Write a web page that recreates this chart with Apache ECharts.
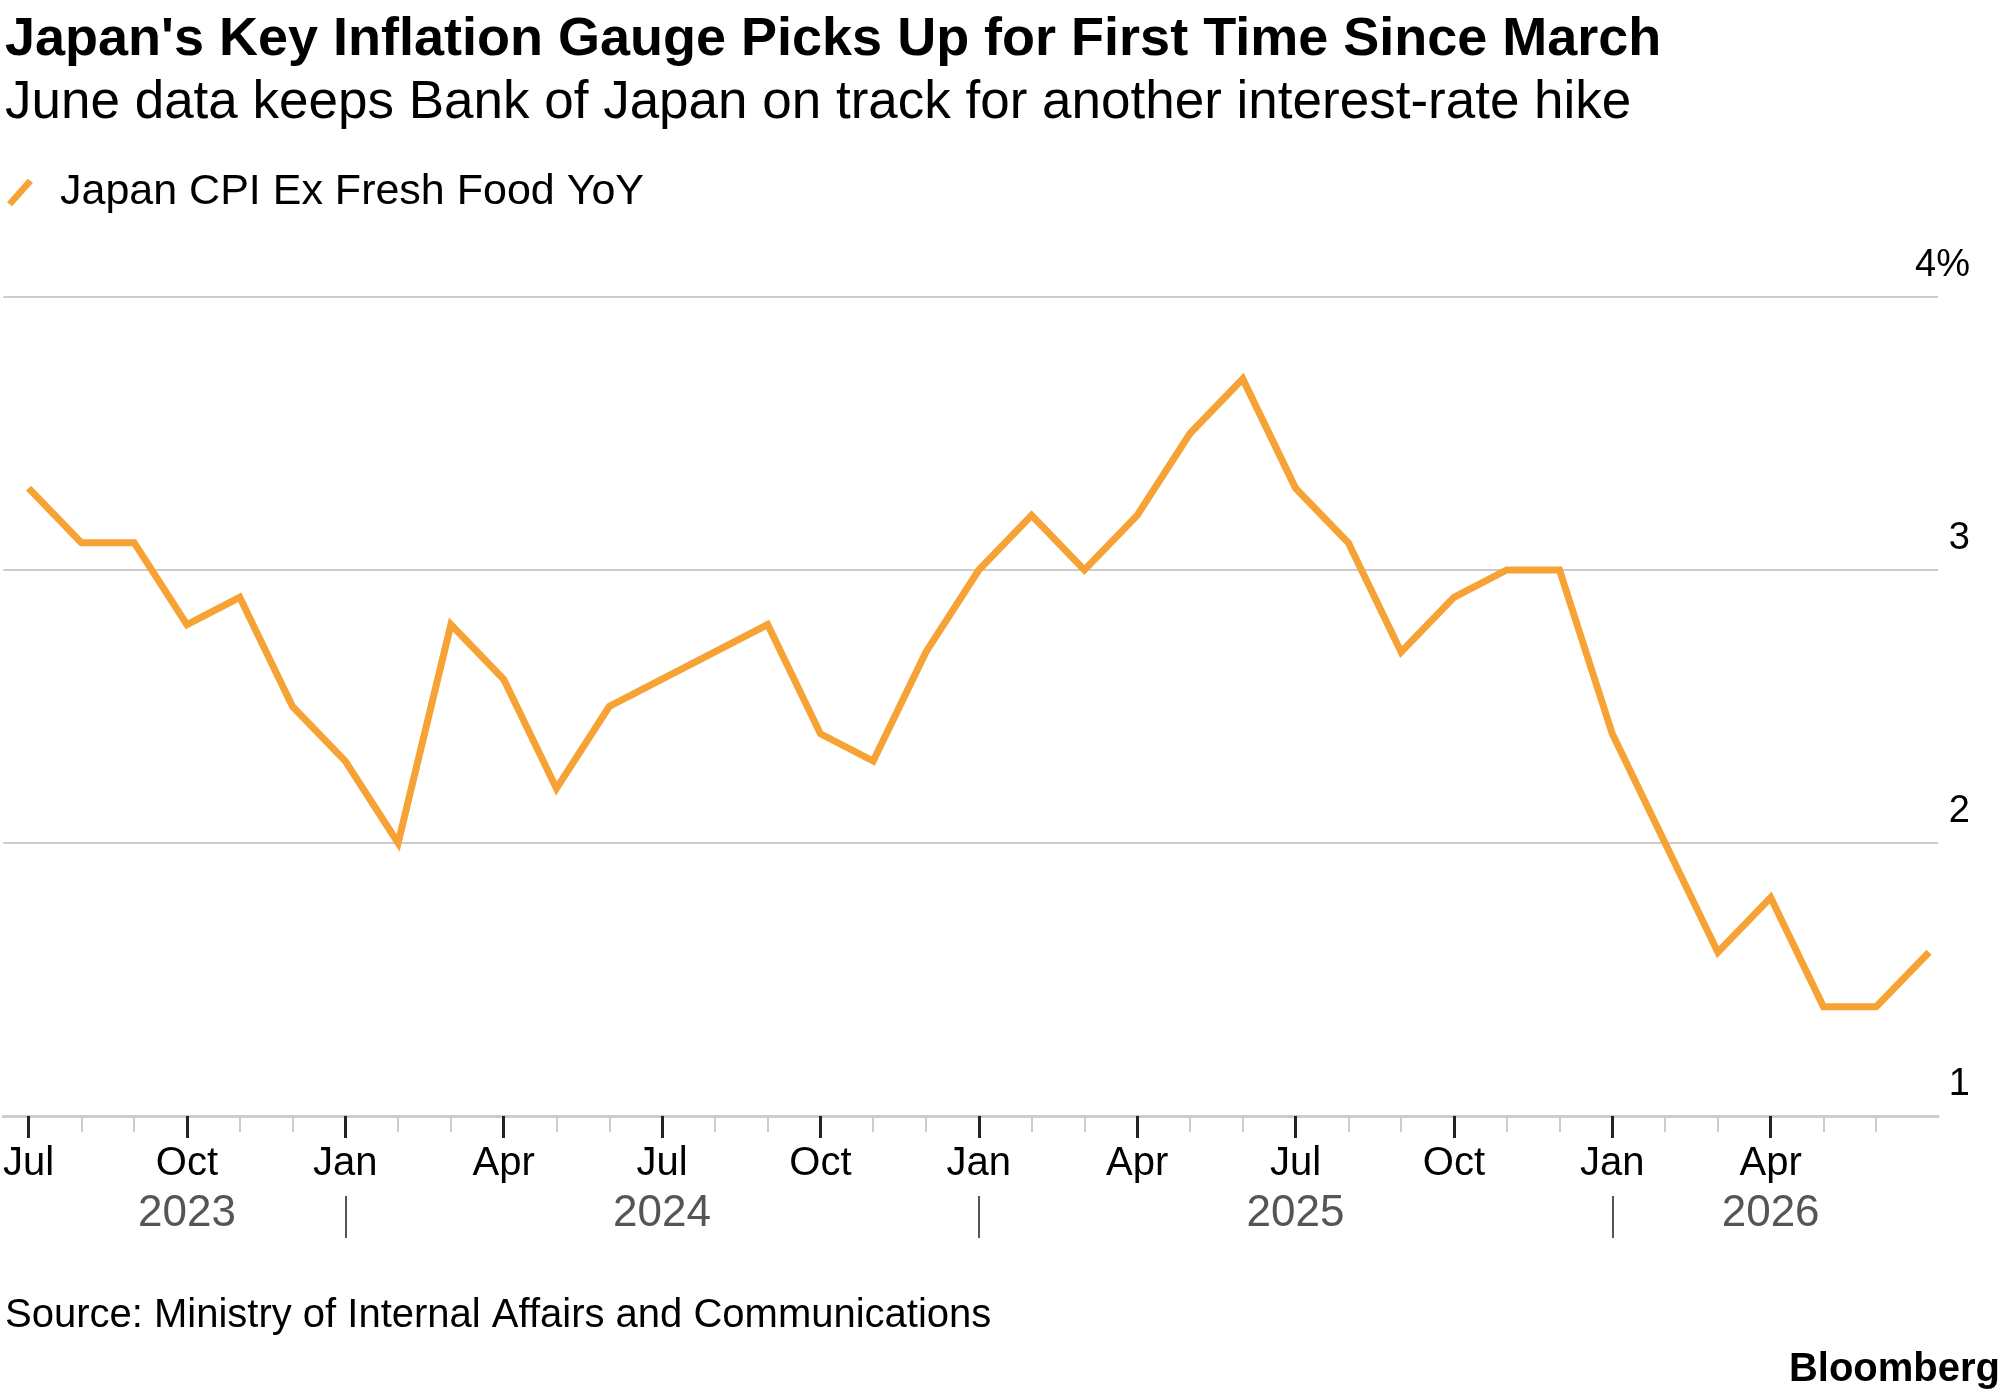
<!DOCTYPE html>
<html>
<head>
<meta charset="utf-8">
<script src="https://cdn.jsdelivr.net/npm/echarts@6/dist/echarts.min.js"></script>
<style>html,body{margin:0;padding:0;background:#fff}#chart{width:2005px;height:1392px}</style>
</head>
<body>
<div id="chart"></div>
<script>
// monthly data, Jul 2023 .. Jul 2026
const months = ['Jul','Aug','Sep','Oct','Nov','Dec',
  'Jan','Feb','Mar','Apr','May','Jun','Jul','Aug','Sep','Oct','Nov','Dec',
  'Jan','Feb','Mar','Apr','May','Jun','Jul','Aug','Sep','Oct','Nov','Dec',
  'Jan','Feb','Mar','Apr','May','Jun','Jul'];
const cpiCore = [3.3,3.1,3.1,2.8,2.9,2.5,
  2.3,2.0,2.8,2.6,2.2,2.5,2.6,2.7,2.8,2.4,2.3,2.7,
  3.0,3.2,3.0,3.2,3.5,3.7,3.3,3.1,2.7,2.9,3.0,3.0,
  2.4,2.0,1.6,1.8,1.4,1.4,1.6];
const quarterTicks = [0,3,6,9,12,15,18,21,24,27,30,33];
const yearLabels = ['2023','2024','2025','2026'];
const yearCenters = [3,12,24,33];
const yearBreaks = [6,18,30];
const yTicks = [1,2,3,4];

const FONT = 'Liberation Sans, Arial, sans-serif';
const chart = echarts.init(document.getElementById('chart'));

const monthIdx = months.map((m,i)=>i).slice(0,36);

const baseX = {
  type:'value', min:-0.48, max:36.17, gridIndex:0, position:'bottom',
  splitLine:{show:false}
};

chart.setOption({
  animation:false,
  textStyle:{fontFamily:FONT},
  title:[
    {text:"Japan's Key Inflation Gauge Picks Up for First Time Since March",left:0,top:8,
     textStyle:{fontSize:54,fontWeight:'bold',color:'#000',fontFamily:FONT}},
    {text:'June data keeps Bank of Japan on track for another interest-rate hike',left:0,top:72,
     textStyle:{fontSize:53,fontWeight:'normal',color:'#000',fontFamily:FONT}},
    {text:'Source: Ministry of Internal Affairs and Communications',left:0,top:1291,
     textStyle:{fontSize:40,fontWeight:'normal',color:'#000',fontFamily:FONT}},
    {text:'Bloomberg',right:0,top:1345,
     textStyle:{fontSize:40,fontWeight:'bold',color:'#000',fontFamily:FONT}}
  ],
  legend:{
    left:2,top:166,itemWidth:26,itemHeight:28,itemGap:20,
    icon:'path://M0,20 L16,2 L20,5 L4,23 Z',
    textStyle:{fontSize:43,color:'#000',fontFamily:FONT,padding:[0,0,0,22]},
    data:['Japan CPI Ex Fresh Food YoY']
  },
  grid:{left:0,top:297,width:1938,height:819},
  xAxis:[
    Object.assign({},baseX,{
      axisLine:{show:true,lineStyle:{color:'#cccccc',width:3}},
      axisTick:{show:true,length:16,customValues:monthIdx,lineStyle:{color:'#cccccc',width:2}},
      axisLabel:{show:false}
    }),
    Object.assign({},baseX,{
      axisLine:{show:false},
      axisTick:{show:true,length:22,customValues:quarterTicks,lineStyle:{color:'#222',width:3}},
      axisLabel:{show:true,customValues:quarterTicks,margin:28,fontSize:40,color:'#000',fontFamily:FONT,
        formatter:v=>months[Math.round(v)]}
    }),
    Object.assign({},baseX,{
      offset:80,
      axisLine:{show:false},
      axisTick:{show:true,length:42,customValues:yearBreaks,lineStyle:{color:'#555',width:2}},
      axisLabel:{show:true,customValues:yearCenters,margin:-4,fontSize:44,color:'#555',fontFamily:FONT,
        formatter:v=>yearLabels[yearCenters.indexOf(Math.round(v))]}
    })
  ],
  yAxis:{
    type:'value',position:'right',min:1,max:4,interval:1,
    axisLine:{show:false},axisTick:{show:false},
    splitLine:{show:true,lineStyle:{color:'#cccccc',width:2}},
    axisLabel:{show:true,align:'right',verticalAlign:'bottom',margin:32,padding:[0,0,12,0],
      fontSize:38,color:'#000',fontFamily:FONT,
      customValues:yTicks,formatter:v=>v===4?'4%':String(v)}
  },
  series:[{
    name:'Japan CPI Ex Fresh Food YoY',type:'line',xAxisIndex:0,
    data:cpiCore.map((v,i)=>[i,v]),
    symbol:'none',color:'#f7a234',
    lineStyle:{width:7,color:'#f7a234',join:'miter'}
  }]
});
</script>
</body>
</html>
